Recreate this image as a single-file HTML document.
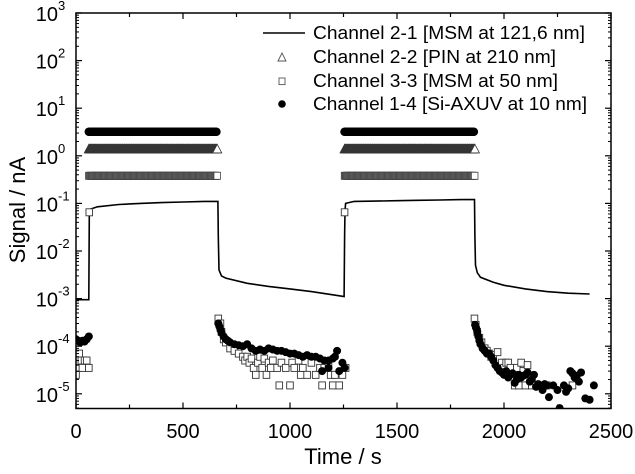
<!DOCTYPE html>
<html><head><meta charset="utf-8"><style>
body{margin:0;background:#fff}
text{font-family:"Liberation Sans",sans-serif;fill:#000}
</style></head><body>
<svg id="c" width="635" height="469" viewBox="0 0 635 469" xmlns="http://www.w3.org/2000/svg"></svg>
<script>
const xTicks=[0,500,1000,1500,2000,2500];
const yExps=[-5,-4,-3,-2,-1,0,1,2,3];
const lineT=[0,60,62,65,100,200,300,400,500,600,663,665,668,680,700,800,900,1000,1100,1200,1253,1255,1257,1260,1300,1400,1500,1600,1700,1800,1862,1864,1867,1875,1890,1950,2000,2100,2200,2300,2400];
const lineV=[0.00095,0.00095,0.06,0.075,0.085,0.095,0.1,0.104,0.107,0.11,0.11,0.02,0.004,0.003,0.0027,0.0021,0.0018,0.0016,0.0014,0.0012,0.0011,0.02,0.07,0.1,0.11,0.112,0.114,0.116,0.118,0.12,0.12,0.02,0.005,0.0035,0.0028,0.0022,0.0019,0.0016,0.0014,0.0013,0.00125];
const bandStart=[60,1255];
const bandEnd=[662,1865];
const dotLevel=3.2, triLevel=1.4, sqLevel=0.38;
const dotT=[0,10,20,30,40,50,60,665,670,675,680,690,700,710,720,740,760,780,800,820,840,860,880,900,920,940,960,980,1000,1020,1040,1060,1080,1100,1120,1140,1160,1180,1200,1210,1220,1150,1180,1230,1245,1255,1865,1870,1875,1880,1885,1890,1900,1910,1920,1930,1940,1950,1960,1970,1980,1990,2000,2010,2020,2030,2040,2050,2060,2070,2080,2090,2100,2110,2120,2130,2140,2150,2160,2180,2190,2200,2210,2230,2250,2260,2280,2290,2300,2310,2320,2330,2340,2350,2360,2380,2400,2420];
const dotV=[1.4e-4,1.3e-4,1.2e-4,1.3e-4,1.25e-4,1.4e-4,1.6e-4,3e-4,2.6e-4,2.2e-4,1.9e-4,1.6e-4,1.4e-4,1.3e-4,1.2e-4,1.1e-4,1.05e-4,1e-4,1.1e-4,9e-5,8e-5,8.5e-5,8e-5,9e-5,8.5e-5,8e-5,8e-5,7.5e-5,7e-5,7e-5,6.5e-5,6e-5,6.5e-5,6e-5,6e-5,5.5e-5,5e-5,5e-5,5.5e-5,6e-5,8e-5,3e-5,3.5e-5,3e-5,4.5e-5,3.5e-5,2.8e-4,2.4e-4,2e-4,1.6e-4,1.3e-4,1.1e-4,9e-5,8e-5,7e-5,7e-5,6e-5,5e-5,4e-5,3.5e-5,3e-5,2.8e-5,2.5e-5,3e-5,2.2e-5,2.5e-5,2.7e-5,1.7e-5,2e-5,2.5e-5,2.2e-5,2.4e-5,2.5e-5,2.8e-5,1.8e-5,2e-5,2.5e-5,1.4e-5,1.6e-5,1.2e-5,1.6e-5,1.5e-5,8.5e-6,1.5e-5,1.2e-5,5e-6,1.5e-5,1.1e-5,1.3e-5,3e-5,2.7e-5,2.2e-5,2.4e-5,1.8e-5,2.8e-5,8e-6,7.5e-6,1.5e-5,1.1e-5];
const sqT=[62,1255,0,8,15,25,30,40,50,60,665,675,680,690,700,720,740,760,780,790,800,810,820,830,840,850,860,870,880,890,900,910,920,940,950,960,980,1000,1010,1020,1040,1050,1060,1080,1100,1120,1140,1150,1160,1180,1190,1200,1210,1230,1245,1260,1862,1868,1875,1885,1895,1910,1920,1930,1940,1950,1970,1990,2000,2010,2020,2030,2050,2060,2070,2080,2090,2100,2110,2130,2150,2200,2320];
const sqV=[0.065,0.065,2.5e-5,3.5e-5,7e-5,5e-5,3.5e-5,5e-5,5e-5,3.5e-5,3.8e-4,3e-4,2e-4,1.4e-4,1.2e-4,9e-5,8e-5,7e-5,6e-5,5e-5,6e-5,4.5e-5,5.5e-5,3.5e-5,2.5e-5,4.5e-5,6e-5,3.5e-5,5.5e-5,2.5e-5,4.5e-5,3.5e-5,5e-5,3.5e-5,1.5e-5,4.5e-5,3.5e-5,1.5e-5,4.5e-5,3.5e-5,5e-5,2.5e-5,3.5e-5,2.5e-5,4.5e-5,2.5e-5,3.5e-5,1.5e-5,3.5e-5,4.5e-5,2.5e-5,1.5e-5,2.5e-5,1.5e-5,2.5e-5,3.5e-5,3.8e-4,2.8e-4,2e-4,1.5e-4,1.2e-4,9e-5,8e-5,7e-5,6e-5,6.5e-5,7.5e-5,4.5e-5,3.5e-5,4.5e-5,4.5e-5,3.5e-5,1.5e-5,3.5e-5,1.5e-5,4.5e-5,3e-5,1.5e-5,4e-5,1.5e-5,1.5e-5,1.5e-5,1.5e-5];

const X0=76,X1=611,Y3=13,DEC=47.6,YB=408.5;
const sx=t=>X0+(t-0)/2500*(X1-X0);
const sy=v=>Y3+(3-Math.log10(v))*DEC;
const svg=document.getElementById('c');
const NS='http://www.w3.org/2000/svg';
function mk(tag,attrs,parent){const e=document.createElementNS(NS,tag);for(const k in attrs)e.setAttribute(k,attrs[k]);(parent||svg).appendChild(e);return e;}
const clip=mk('clipPath',{id:'pc'});mk('rect',{x:X0,y:Y3-2,width:X1-X0,height:YB-Y3+2},clip);

const gBand=mk('g',{'clip-path':'url(#pc)'});


for(let b=0;b<bandStart.length;b++){
  for(let t=bandStart[b];t<=bandEnd[b];t+=3){
    const last=t+3>bandEnd[b];
    const x=sx(t),y=sy(triLevel);
    const tri=mk('path',{d:`M${x-4.5},${y+4}L${x},${y-4.5}L${x+4.5},${y+4}Z`,fill:last?'#fff':'#999',stroke:'#333','stroke-width':0.8},gBand);
    
    
  }
  for(let t=bandStart[b];t<=bandEnd[b];t+=4){
    const last=t+4>bandEnd[b];
    const x=sx(t),y=sy(sqLevel);
    const s=mk('rect',{x:x-3.3,y:y-3.5,width:6.6,height:7,fill:last?'#fff':'#bbb',stroke:'#444','stroke-width':0.8},gBand);
    
    
  }
  for(let t=bandStart[b];t<=bandEnd[b]-4;t+=4){
    const c=mk('circle',{cx:sx(t),cy:sy(dotLevel),r:4.3,fill:'#000'},gBand);
    
    
  }
}
const line=mk('path',{d:lineT.map((t,i)=>(i?'L':'M')+sx(t).toFixed(1)+','+sy(lineV[i]).toFixed(1)).join(''),fill:'none',stroke:'#000','stroke-width':1.6});


const gS=mk('g',{'clip-path':'url(#pc)'});


sqT.forEach((t,i)=>{const x=sx(t),y=sy(sqV[i]);
  const s=mk('rect',{x:x-3.3,y:y-3.5,width:6.6,height:7,fill:'#fff',stroke:'#333','stroke-width':0.9},gS);
  
  });
dotT.forEach((t,i)=>{
  const c=mk('circle',{cx:sx(t),cy:sy(dotV[i]),r:4,fill:'#000'},gS);
  
  });

const fr=mk('rect',{x:X0,y:Y3,width:X1-X0,height:YB-Y3,fill:'none',stroke:'#000','stroke-width':1.5});


for(let t=0;t<=2500;t+=250){const x=sx(t),L=t%500===0?6:4;
  mk('line',{x1:x,y1:YB,x2:x,y2:YB-L,stroke:'#000','stroke-width':1.2});
  mk('line',{x1:x,y1:Y3,x2:x,y2:Y3+L,stroke:'#000','stroke-width':1.2});}
xTicks.forEach(t=>{const tx=mk('text',{x:sx(t),y:438,'font-size':20,'text-anchor':'middle'});tx.textContent=t;
  
  });
yExps.forEach(e=>{
  const y=sy(Math.pow(10,e));
  mk('line',{x1:X0,y1:y,x2:X0+6,y2:y,stroke:'#000','stroke-width':1.2});
  mk('line',{x1:X1,y1:y,x2:X1-6,y2:y,stroke:'#000','stroke-width':1.2});
  for(let m=2;m<10;m++){const yy=sy(m*Math.pow(10,e-1));if(yy>YB||yy<Y3)continue;
    mk('line',{x1:X0,y1:yy,x2:X0+3,y2:yy,stroke:'#000','stroke-width':1});
    mk('line',{x1:X1,y1:yy,x2:X1-3,y2:yy,stroke:'#000','stroke-width':1});}
  const tx=mk('text',{x:58,y:y+8,'font-size':20,'text-anchor':'end'});tx.textContent='10';
  
  
  const sp=mk('text',{x:58,y:y-3,'font-size':13});sp.textContent=e<0?'-'+(-e):String(e);
  
  
});
const xt=mk('text',{x:343,y:464,'font-size':22,'text-anchor':'middle'});xt.textContent='Time / s';


const yt=mk('text',{x:0,y:0,'font-size':22,'text-anchor':'middle',transform:'translate(25,210) rotate(-90)'});yt.textContent='Signal / nA';


const leg=mk('g',{});


const labels=['Channel 2-1 [MSM at 121,6 nm]','Channel 2-2 [PIN at 210 nm]','Channel 3-3 [MSM at 50 nm]','Channel 1-4 [Si-AXUV at 10 nm]'];
const lw=[272,243,245,274];
const ly=[33,57,81,104];
mk('line',{x1:263,y1:ly[0],x2:305,y2:ly[0],stroke:'#000','stroke-width':1.6},leg);
mk('path',{d:`M278,${ly[1]+4}L282,${ly[1]-4}L286,${ly[1]+4}Z`,fill:'#fff',stroke:'#555','stroke-width':0.9},leg);
mk('rect',{x:279,y:ly[2]-3,width:6,height:6.6,fill:'#fff',stroke:'#555','stroke-width':0.9},leg);
mk('circle',{cx:282,cy:ly[3],r:3.8,fill:'#000'},leg);
labels.forEach((l,i)=>{const tx=mk('text',{x:313,y:ly[i]+6,'font-size':18,textLength:lw[i],lengthAdjust:'spacingAndGlyphs'},leg);tx.textContent=l;
  
  });
</script>
</body></html>
